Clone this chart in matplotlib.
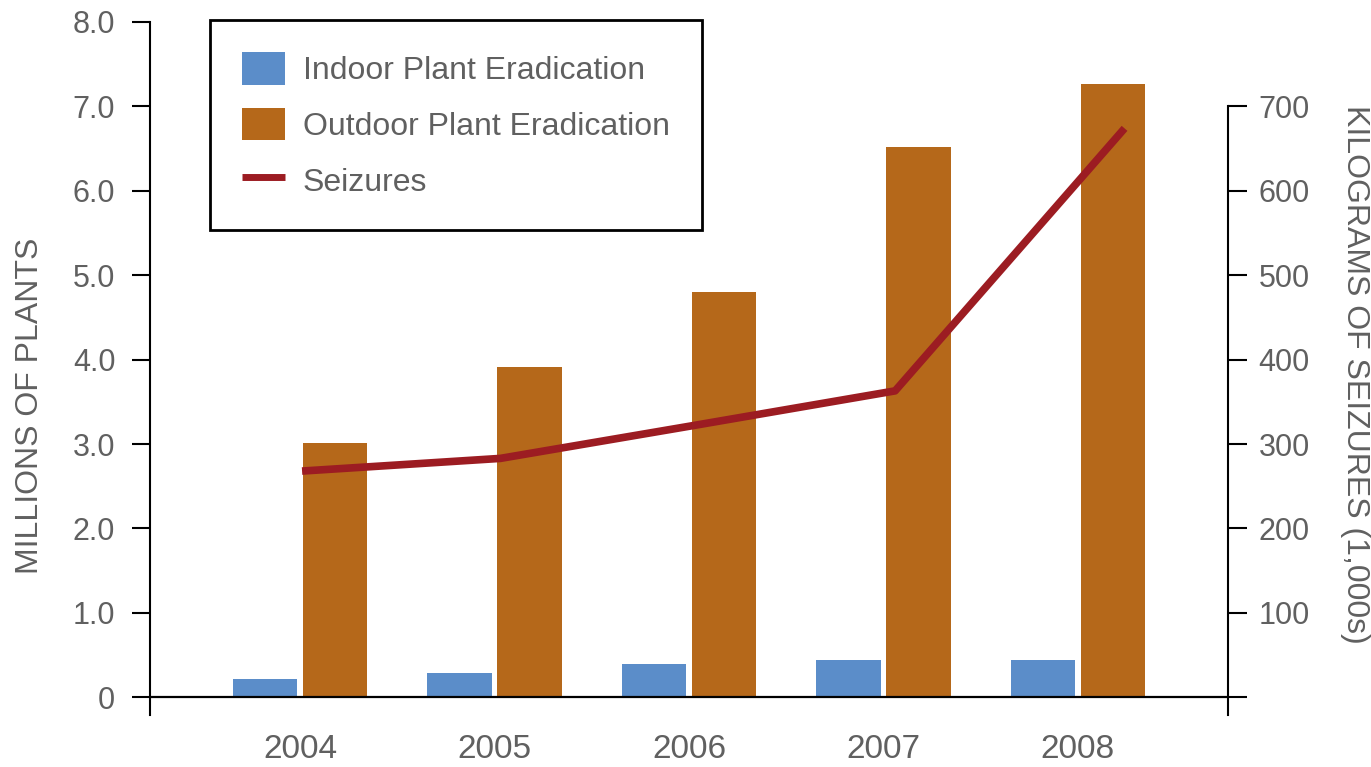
import matplotlib.pyplot as plt
import numpy as np
from matplotlib.patches import Patch
from matplotlib.lines import Line2D

plt.rcParams['font.family'] = ['Liberation Sans', 'DejaVu Sans']

# values
years = ['2004', '2005', '2006', '2007', '2008']
indoor = [0.22, 0.29, 0.39, 0.44, 0.44]      # millions of plants
outdoor = [3.01, 3.91, 4.80, 6.52, 7.26]     # millions of plants
seizures = [268, 283, 323, 363, 674]         # kilograms (1,000s)
seizure_pos = [0.01, 1.03, 2.05, 3.06, 4.24]  # line vertices sit a bit right of the group centres

left_ticks = [0, 1, 2, 3, 4, 5, 6, 7, 8]
left_labels = ['0', '1.0', '2.0', '3.0', '4.0', '5.0', '6.0', '7.0', '8.0']
right_ticks = [0, 100, 200, 300, 400, 500, 600, 700]
right_labels = ['', '100', '200', '300', '400', '500', '600', '700']

blue = '#5b8dc9'
orange = '#b5681a'
red = '#9c1c22'
grey = '#606060'

W, H = 1371, 767
fig = plt.figure(figsize=(W / 100, H / 100), dpi=100)
ax = fig.add_axes([150 / W, 52 / H, 1078 / W, 693 / H])

x = np.arange(len(years))
bw = 0.33
off = 0.18
ax.bar(x - off, indoor, bw, color=blue, zorder=2)
ax.bar(x + off, outdoor, bw, color=orange, zorder=2)
ax.axhline(0, color='black', lw=1.6, zorder=3)

ax.set_xlim(-0.772, 4.772)
ax.set_ylim(-0.21, 8.0)
ax.set_xticks(x)
ax.set_xticklabels(years, fontsize=24, color=grey)
ax.tick_params(axis='x', length=0, pad=14)
ax.set_yticks(left_ticks)
ax.set_yticklabels(left_labels, fontsize=22, color=grey)
ax.tick_params(axis='y', length=13, width=1.5, pad=12, color='black')

for s in ['top', 'right', 'bottom']:
    ax.spines[s].set_visible(False)
ax.spines['left'].set_linewidth(1.5)

# second axis for the seizures line
ax2 = ax.twinx()
ax2.plot(seizure_pos, seizures, color=red, lw=5.5, solid_capstyle='butt',
         solid_joinstyle='round', zorder=4)
ax2.set_ylim(-21, 800)
ax2.set_yticks(right_ticks)
ax2.set_yticklabels(right_labels, fontsize=22, color=grey)
ax2.tick_params(axis='y', length=14, width=1.5, pad=8, color='black')
for s in ['top', 'left', 'bottom']:
    ax2.spines[s].set_visible(False)
ax2.spines['right'].set_linewidth(1.5)
ax2.spines['right'].set_bounds(-21, 700)

fig.text(30 / W, 1 - 406 / H, 'MILLIONS OF PLANTS', rotation=90,
         ha='center', va='center', fontsize=23, color=grey)
fig.text(1355 / W, 1 - 374 / H, 'KILOGRAMS OF SEIZURES (1,000s)', rotation=270,
         ha='center', va='center', fontsize=23, color=grey)

handles = [Patch(facecolor=blue, edgecolor='none'),
           Patch(facecolor=orange, edgecolor='none'),
           Line2D([], [], color=red, lw=5, solid_capstyle='butt')]
names = ['Indoor Plant Eradication', 'Outdoor Plant Eradication', 'Seizures']
leg = ax2.legend(handles, names, loc='upper left', bbox_to_anchor=(0.0557, 1.003),
                 borderaxespad=0, fontsize=23, frameon=True, fancybox=False,
                 framealpha=1, handlelength=1.35, handleheight=1.2,
                 handletextpad=0.55, labelspacing=0.68, borderpad=1.0,
                 labelcolor=grey)
leg.get_frame().set_edgecolor('black')
leg.get_frame().set_linewidth(2)
leg.set_zorder(10)

fig.savefig('out.png', dpi=100)
